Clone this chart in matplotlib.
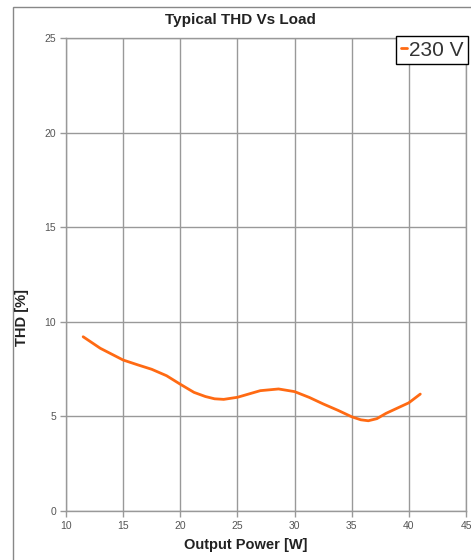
import matplotlib
matplotlib.use("Agg")
from matplotlib import pyplot as plt
from matplotlib.patches import Rectangle

plt.rcParams['font.family'] = ['Liberation Sans', 'DejaVu Sans']

# values
power = [11.5, 13.0, 15.0, 16.3, 17.5, 18.8, 20.0, 21.2, 22.2, 23.0, 23.8, 25.0,
         27.0, 28.6, 30.0, 31.3, 32.5, 33.8, 35.0, 35.8, 36.45, 37.2, 38.0,
         39.0, 40.0, 41.0]
thd = [9.21, 8.6, 7.98, 7.72, 7.49, 7.15, 6.70, 6.27, 6.05, 5.93, 5.90, 6.01,
       6.36, 6.45, 6.31, 6.00, 5.66, 5.32, 4.98, 4.82, 4.77, 4.88, 5.16,
       5.44, 5.72, 6.18]
x_ticks = [10, 15, 20, 25, 30, 35, 40, 45]
y_ticks = [0, 5, 10, 15, 20, 25]
series_name = "230 V"

W, H = 471, 560
fig = plt.figure(figsize=(W / 100, H / 100), dpi=100)

# outer frame
fig.patches.append(Rectangle((13 / W, -0.1), 1.0, 1 - 7 / H + 0.1, transform=fig.transFigure,
                             fill=False, edgecolor='#888888', linewidth=1.0))

ax = fig.add_axes([66 / W, 1 - 511 / H, 400 / W, 473 / H])
ax.plot(power, thd, color='#ff6a13', linewidth=2.0, solid_capstyle='round',
        solid_joinstyle='round', label=series_name)

ax.set_xlim(10, 45)
ax.set_ylim(0, 25)
ax.set_xticks(x_ticks)
ax.set_yticks(y_ticks)
ax.grid(True, color='#999999', linewidth=1.0)
ax.set_axisbelow(True)
for s in ax.spines.values():
    s.set_color('#999999')
    s.set_linewidth(1.0)
ax.tick_params(colors='#999999', labelcolor='#555555', labelsize=7.5, length=4, width=1, pad=3)

fig.text(240 / W, 1 - 20 / H, "Typical THD Vs Load", ha='center', va='center',
         fontsize=11, fontweight='bold', color='#222222')
fig.text(246 / W, 1 - 545 / H, "Output Power [W]", ha='center', va='center',
         fontsize=10.5, fontweight='bold', color='#222222')
fig.text(22 / W, 1 - 318 / H, "THD [%]", ha='center', va='center', rotation=90,
         fontsize=10.5, fontweight='bold', color='#222222')

leg = ax.legend(loc='upper right', bbox_to_anchor=(1.005, 1.004), fontsize=15,
                handlelength=0.3, handletextpad=0.1, borderpad=0.22, borderaxespad=0,
                fancybox=False, framealpha=1, edgecolor='black')
leg.get_frame().set_linewidth(1.0)
for t in leg.get_texts():
    t.set_color('#333333')

fig.savefig("out.png", dpi=100)
